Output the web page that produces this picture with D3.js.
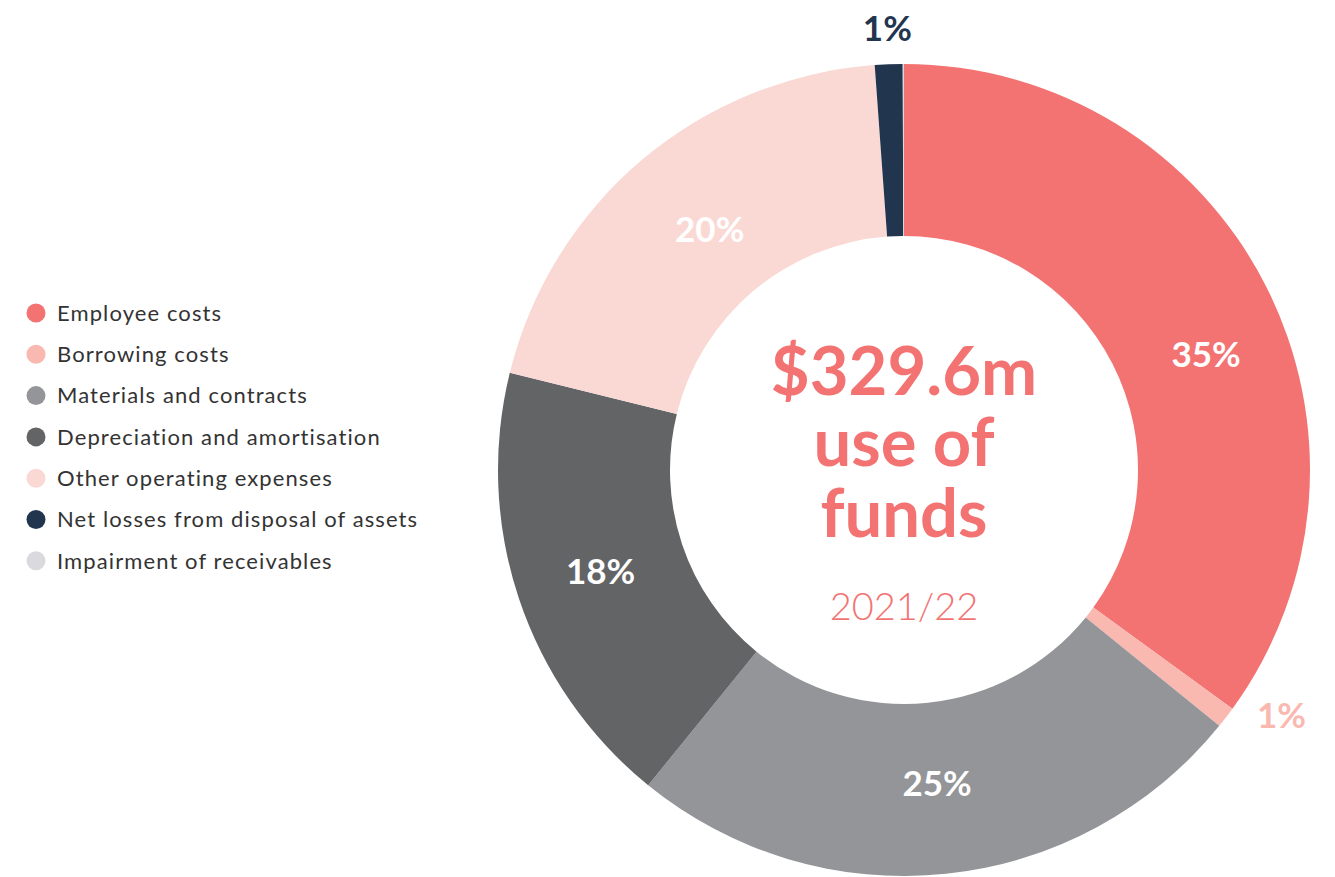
<!DOCTYPE html>
<html>
<head>
<meta charset="utf-8">
<script src="https://cdn.jsdelivr.net/npm/d3@7"></script>
<style>
  body { margin: 0; background: #fff; }
  svg { display: block; font-family: Lato, "Noto Sans", sans-serif; }
</style>
</head>
<body>
<svg id="chart" width="1335" height="877"></svg>
<script>
// data (share of total, %)
var categories = ["Employee costs", "Borrowing costs", "Materials and contracts",
    "Depreciation and amortisation", "Other operating expenses",
    "Net losses from disposal of assets", "Impairment of receivables"];
var shares = [35.0, 0.85, 25.0, 18.0, 20.0, 1.1, 0.05];
var shareLabels = ["35%", "1%", "25%", "18%", "20%", "1%", ""];
var colours = ["#f37373", "#f9b8b0", "#949598", "#636466", "#fad9d4", "#22354f", "#d9d9de"];
var centreLines = ["$329.6m", "use of", "funds"];
var centreYear = "2021/22";

// layout
var cx = 904, cy = 470, rOuter = 406, rInner = 234;
var svg = d3.select("#chart");

var pie = d3.pie().sort(null).value(function(d) { return d.value; });
var arc = d3.arc().innerRadius(rInner).outerRadius(rOuter);
var rows = categories.map(function(c, i) {
    return { name: c, value: shares[i], label: shareLabels[i], colour: colours[i] };
});
var slices = pie(rows);

var g = svg.append("g").attr("transform", "translate(" + cx + "," + cy + ")");

g.selectAll("path.slice")
    .data(slices)
    .enter().append("path")
    .attr("class", "slice")
    .attr("d", arc)
    .attr("fill", function(d) { return d.data.colour; });

// labels: inside the ring for big slices, outside for the thin ones
var inner = d3.arc().innerRadius(320).outerRadius(320);
var outer = d3.arc().innerRadius(442).outerRadius(442);
// hand nudges, the source placed a few labels off-centre
var nudge = {
    "Employee costs": [17, 30],
    "Other operating expenses": [12, 4],
    "Borrowing costs": [27, -24],
    "Materials and contracts": [0, -5]
};

g.selectAll("text.pct")
    .data(slices.filter(function(d) { return d.data.label; }))
    .enter().append("text")
    .attr("class", "pct")
    .attr("transform", function(d) {
        var big = d.data.value > 5;
        var p = (big ? inner : outer).centroid(d);
        var n = nudge[d.data.name] || [0, 0];
        return "translate(" + (p[0] + n[0]) + "," + (p[1] + n[1]) + ")";
    })
    .attr("text-anchor", "middle")
    .attr("dy", "0.36em")
    .attr("font-size", 35)
    .attr("font-weight", 700)
    .attr("fill", function(d) { return d.data.value > 5 ? "#fff" : d.data.colour; })
    .text(function(d) { return d.data.label; });

// centre text, one block with a line per tspan
var big = g.append("text")
    .attr("text-anchor", "middle")
    .attr("font-size", 67)
    .attr("font-weight", 700)
    .attr("fill", "#f37373");
big.selectAll("tspan")
    .data(centreLines)
    .enter().append("tspan")
    .attr("x", 0)
    .attr("y", function(d, i) { return -75 + i * 71; })
    .text(function(d) { return d; });

g.append("text")
    .attr("text-anchor", "middle")
    .attr("y", 150)
    .attr("font-size", 38)
    .attr("font-weight", 300)
    .attr("fill", "#f37373")
    .text(centreYear);

// legend
var legend = svg.append("g").attr("transform", "translate(36,313)");
var item = legend.selectAll("g")
    .data(rows)
    .enter().append("g")
    .attr("transform", function(d, i) { return "translate(0," + (i * 41.3) + ")"; });
item.append("circle").attr("r", 9.5).attr("fill", function(d) { return d.colour; });
item.append("text")
    .attr("x", 21)
    .attr("dy", "0.35em")
    .attr("font-size", 22)
    .attr("letter-spacing", "1.1px")
    .attr("fill", "#333")
    .text(function(d) { return d.name; });
</script>
</body>
</html>
